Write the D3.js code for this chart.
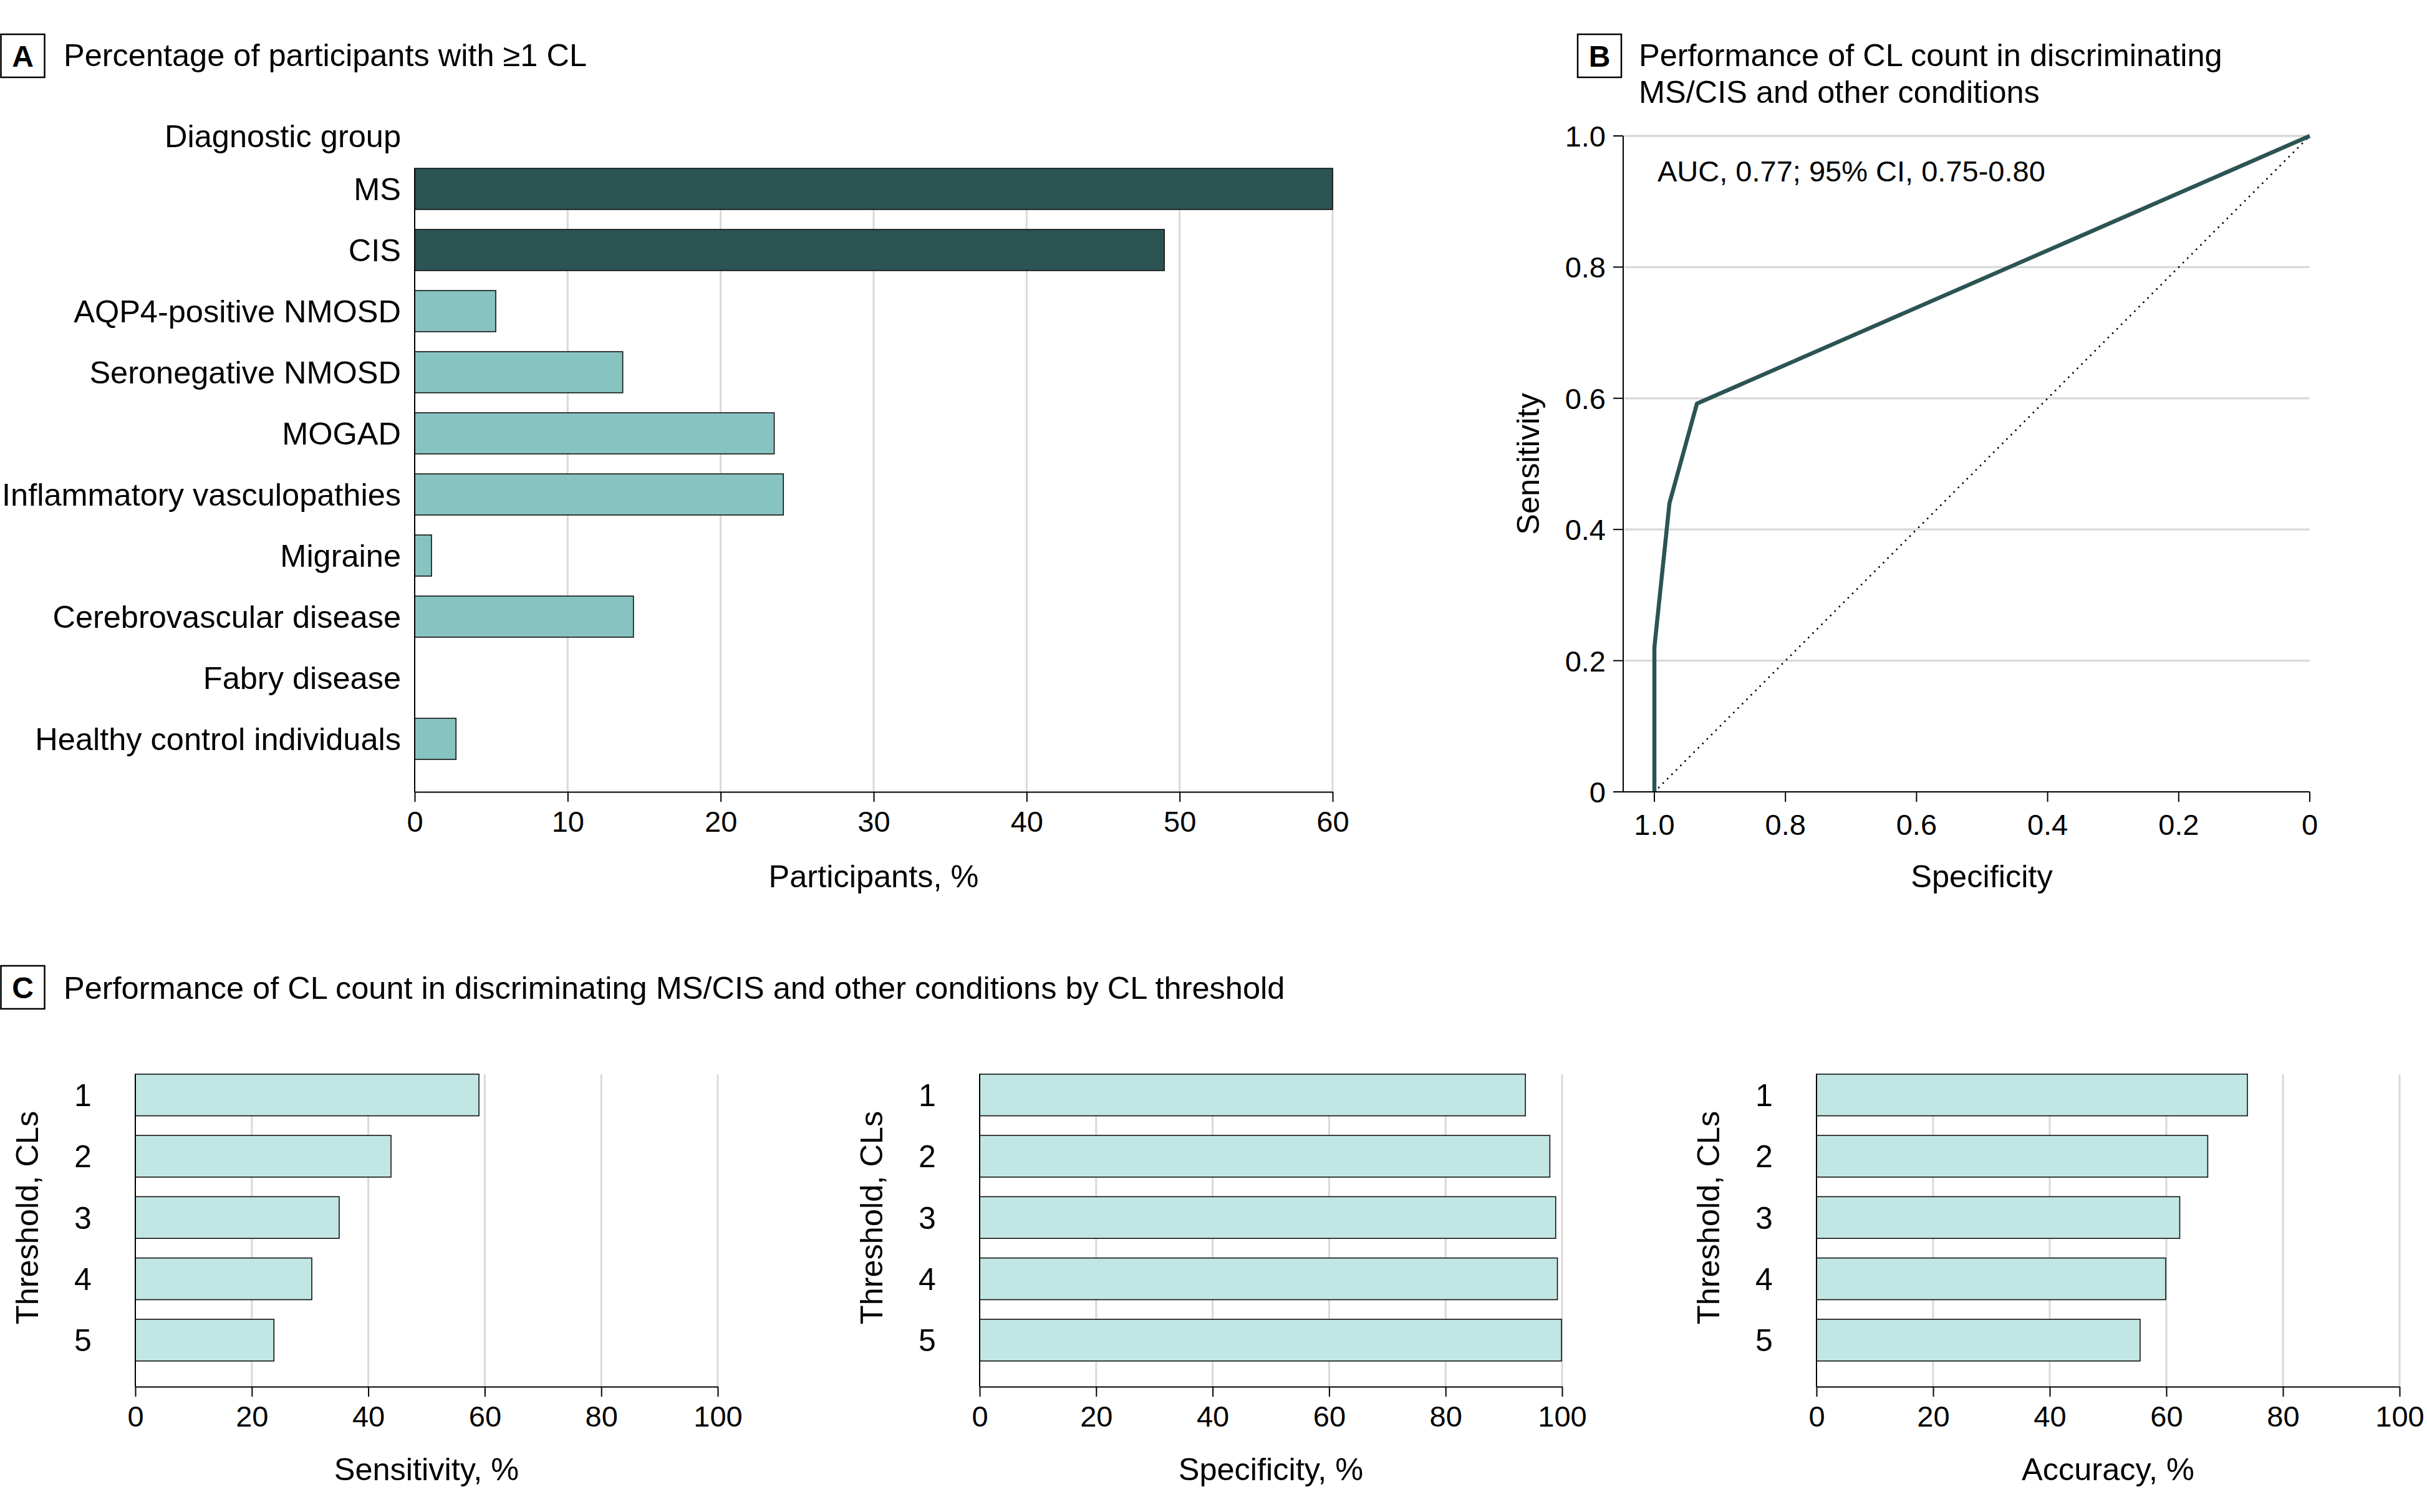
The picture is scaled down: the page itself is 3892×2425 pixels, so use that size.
<!DOCTYPE html>
<html>
<head>
<meta charset="utf-8">
<script src="https://cdn.jsdelivr.net/npm/d3@7"></script>
<style>
  html, body { margin: 0; padding: 0; background: #fff; }
  svg text { font-family: "Liberation Sans", Arial, sans-serif; fill: #000; }
</style>
</head>
<body>
<svg id="chart" width="3892" height="2425"></svg>
<script>
// ---------------- DATA ----------------
const categories = ["MS", "CIS", "AQP4-positive NMOSD", "Seronegative NMOSD", "MOGAD",
  "Inflammatory vasculopathies", "Migraine", "Cerebrovascular disease", "Fabry disease",
  "Healthy control individuals"];
const participantsPct = [60, 49.0, 5.3, 13.6, 23.5, 24.1, 1.1, 14.3, 0, 2.7];
const groupKind = ["MS/CIS", "MS/CIS", "other", "other", "other", "other", "other", "other", "other", "other"];
const pctTicks = [0, 10, 20, 30, 40, 50, 60];

const rocSpecificity = [1.0, 1.0, 0.977, 0.935, 0.0];
const rocSensitivity = [0.0, 0.22, 0.44, 0.592, 1.0];
const rocTicks = [0, 0.2, 0.4, 0.6, 0.8, 1.0];
const aucLabel = "AUC, 0.77; 95% CI, 0.75-0.80";

const thresholds = ["1", "2", "3", "4", "5"];
const sensitivityPct = [59.0, 43.9, 35.0, 30.3, 23.8];
const specificityPct = [93.7, 97.9, 98.9, 99.2, 99.9];
const accuracyPct = [73.9, 67.1, 62.3, 59.9, 55.5];
const percentTicks = [0, 20, 40, 60, 80, 100];

// ---------------- STYLE ----------------
const darkTeal = "#2b5453";
const midTeal = "#87c3c0";
const lightTeal = "#c1e6e4";
const gridColor = "#d9d9d9";
const FS = 50.5, TFS = 47;

const svg = d3.select("#chart");

function panelLabel(x, y, letter) {
  svg.append("rect").attr("x", x).attr("y", y).attr("width", 70).attr("height", 69)
    .attr("fill", "none").attr("stroke", "#000").attr("stroke-width", 2.5);
  svg.append("text").attr("x", x + 35).attr("y", y + 35).attr("dy", "0.36em")
    .attr("text-anchor", "middle").attr("font-weight", "bold").attr("font-size", 48).text(letter);
}

// ---------------- PANEL A ----------------
panelLabel(1.5, 55, "A");
svg.append("text").attr("x", 102).attr("y", 88).attr("dy", "0.36em").attr("font-size", FS)
  .text("Percentage of participants with \u22651 CL");

const aX = d3.scaleLinear().domain([0, 60]).range([665, 2137]);
const aY = d3.scaleBand().domain(categories).range([254, 1234]).paddingInner(0.327).paddingOuter(0.1635);
const aTop = 270, aBottom = 1270;

const gA = svg.append("g");
gA.selectAll("line.grid").data(pctTicks.filter(d => d > 0)).join("line")
  .attr("x1", d => aX(d)).attr("x2", d => aX(d)).attr("y1", aTop).attr("y2", aBottom)
  .attr("stroke", gridColor).attr("stroke-width", 3);

const aData = categories.map((c, i) => ({ c, v: participantsPct[i], k: groupKind[i] }));
gA.selectAll("rect.bar").data(aData.filter(d => d.v > 0)).join("rect")
  .attr("x", aX(0)).attr("y", d => aY(d.c))
  .attr("width", d => aX(d.v) - aX(0)).attr("height", aY.bandwidth())
  .attr("fill", d => d.k === "MS/CIS" ? darkTeal : midTeal)
  .attr("stroke", "#111").attr("stroke-width", 1.6);

gA.append("line").attr("x1", aX(0)).attr("x2", aX(0)).attr("y1", aTop).attr("y2", aBottom)
  .attr("stroke", "#000").attr("stroke-width", 2);
gA.selectAll("text.cat").data(categories).join("text")
  .attr("x", 643).attr("y", d => aY(d) + aY.bandwidth() / 2).attr("dy", "0.36em")
  .attr("text-anchor", "end").attr("font-size", FS).text(d => d);
gA.append("text").attr("x", 643).attr("y", 218).attr("dy", "0.36em").attr("text-anchor", "end")
  .attr("font-size", FS).text("Diagnostic group");

const axA = svg.append("g").attr("transform", `translate(0,${aBottom})`)
  .call(d3.axisBottom(aX).tickValues(pctTicks).tickSize(16).tickSizeOuter(0).tickPadding(15).tickFormat(d3.format("d")));
axA.select(".domain").attr("stroke", "#000").attr("stroke-width", 2);
axA.selectAll(".tick line").attr("stroke", "#000").attr("stroke-width", 2);
axA.selectAll(".tick text").attr("font-size", TFS).attr("font-family", "Liberation Sans, Arial, sans-serif");
svg.append("text").attr("x", 1401).attr("y", 1405).attr("dy", "0.36em").attr("text-anchor", "middle")
  .attr("font-size", FS).text("Participants, %");

// ---------------- PANEL B ----------------
panelLabel(2530, 55, "B");
svg.append("text").attr("x", 2628).attr("y", 88).attr("dy", "0.36em").attr("font-size", FS)
  .text("Performance of CL count in discriminating");
svg.append("text").attr("x", 2628).attr("y", 147).attr("dy", "0.36em").attr("font-size", FS)
  .text("MS/CIS and other conditions");

const bX = d3.scaleLinear().domain([1.0, 0]).range([2653, 3704]);
const bY = d3.scaleLinear().domain([0, 1]).range([1270, 218]);
const bLeft = 2603, bRight = 3704;

svg.selectAll("line.bgrid").data(rocTicks.filter(d => d > 0)).join("line")
  .attr("x1", bLeft + 2).attr("x2", bRight).attr("y1", d => bY(d)).attr("y2", d => bY(d))
  .attr("stroke", gridColor).attr("stroke-width", 3.3);

svg.append("line").attr("x1", bX(1)).attr("y1", bY(0)).attr("x2", bX(0)).attr("y2", bY(1))
  .attr("stroke", "#000").attr("stroke-width", 3).attr("stroke-linecap", "round")
  .attr("stroke-dasharray", "0,10");

const rocPts = rocSpecificity.map((s, i) => [s, rocSensitivity[i]]);
svg.append("path").datum(rocPts)
  .attr("d", d3.line().x(d => bX(d[0])).y(d => bY(d[1])))
  .attr("fill", "none").attr("stroke", darkTeal).attr("stroke-width", 6.5).attr("stroke-linejoin", "round");

svg.append("line").attr("x1", bLeft).attr("x2", bLeft).attr("y1", bY(1)).attr("y2", bY(0))
  .attr("stroke", "#000").attr("stroke-width", 2);
svg.append("line").attr("x1", bLeft).attr("x2", bRight).attr("y1", bY(0)).attr("y2", bY(0))
  .attr("stroke", "#000").attr("stroke-width", 2);
svg.selectAll("line.bytick").data(rocTicks).join("line")
  .attr("x1", bLeft - 16).attr("x2", bLeft).attr("y1", d => bY(d)).attr("y2", d => bY(d))
  .attr("stroke", "#000").attr("stroke-width", 2);
const fmtB = d => d === 0 ? "0" : d3.format(".1f")(d);
svg.selectAll("text.bylab").data(rocTicks).join("text")
  .attr("x", 2575).attr("y", d => bY(d)).attr("dy", "0.36em").attr("text-anchor", "end")
  .attr("font-size", TFS).text(fmtB);
svg.selectAll("line.bxtick").data(rocTicks).join("line")
  .attr("x1", d => bX(d)).attr("x2", d => bX(d)).attr("y1", bY(0)).attr("y2", bY(0) + 16)
  .attr("stroke", "#000").attr("stroke-width", 2);
svg.selectAll("text.bxlab").data(rocTicks).join("text")
  .attr("x", d => bX(d)).attr("y", 1322).attr("dy", "0.36em").attr("text-anchor", "middle")
  .attr("font-size", TFS).text(fmtB);
svg.append("text").attr("x", 3178).attr("y", 1405).attr("dy", "0.36em").attr("text-anchor", "middle")
  .attr("font-size", FS).text("Specificity");
svg.append("text").attr("transform", `translate(2450,744) rotate(-90)`).attr("dy", "0.36em")
  .attr("text-anchor", "middle").attr("font-size", FS).text("Sensitivity");
svg.append("text").attr("x", 2658).attr("y", 274).attr("dy", "0.36em").attr("font-size", TFS).text(aucLabel);

// ---------------- PANEL C ----------------
panelLabel(1.5, 1549, "C");
svg.append("text").attr("x", 102).attr("y", 1584).attr("dy", "0.36em").attr("font-size", FS)
  .text("Performance of CL count in discriminating MS/CIS and other conditions by CL threshold");

const cTop = 1723, cBottom = 2224;
const cY = d3.scaleBand().domain(thresholds).range([1707, 2198.5]).paddingInner(0.32).paddingOuter(0.16);

function smallPanel(x0, x1, values, title) {
  const x = d3.scaleLinear().domain([0, 100]).range([x0, x1]);
  const g = svg.append("g");
  g.selectAll("line.grid").data(percentTicks.filter(d => d > 0)).join("line")
    .attr("x1", d => x(d)).attr("x2", d => x(d)).attr("y1", cTop).attr("y2", cBottom)
    .attr("stroke", gridColor).attr("stroke-width", 3);
  const data = thresholds.map((t, i) => ({ t, v: values[i] }));
  g.selectAll("rect.bar").data(data).join("rect")
    .attr("x", x(0)).attr("y", d => cY(d.t)).attr("width", d => x(d.v) - x(0)).attr("height", cY.bandwidth())
    .attr("fill", lightTeal).attr("stroke", "#111").attr("stroke-width", 1.6);
  g.append("line").attr("x1", x(0)).attr("x2", x(0)).attr("y1", cTop).attr("y2", cBottom)
    .attr("stroke", "#000").attr("stroke-width", 2);
  g.selectAll("text.cat").data(thresholds).join("text")
    .attr("x", x0 - 84).attr("y", d => cY(d) + cY.bandwidth() / 2).attr("dy", "0.36em")
    .attr("text-anchor", "middle").attr("font-size", 50).text(d => d);
  const ax = g.append("g").attr("transform", `translate(0,${cBottom})`)
    .call(d3.axisBottom(x).tickValues(percentTicks).tickSize(16).tickSizeOuter(0).tickPadding(15).tickFormat(d3.format("d")));
  ax.select(".domain").attr("stroke", "#000").attr("stroke-width", 2);
  ax.selectAll(".tick line").attr("stroke", "#000").attr("stroke-width", 2);
  ax.selectAll(".tick text").attr("font-size", TFS).attr("font-family", "Liberation Sans, Arial, sans-serif");
  g.append("text").attr("x", (x0 + x1) / 2).attr("y", 2356).attr("dy", "0.36em").attr("text-anchor", "middle")
    .attr("font-size", FS).text(title);
  g.append("text").attr("transform", `translate(${x0 - 174},1953) rotate(-90)`).attr("dy", "0.36em")
    .attr("text-anchor", "middle").attr("font-size", FS).text("Threshold, CLs");
}
smallPanel(217, 1151, sensitivityPct, "Sensitivity, %");
smallPanel(1571, 2505, specificityPct, "Specificity, %");
smallPanel(2913, 3848, accuracyPct, "Accuracy, %");
</script>
</body>
</html>
